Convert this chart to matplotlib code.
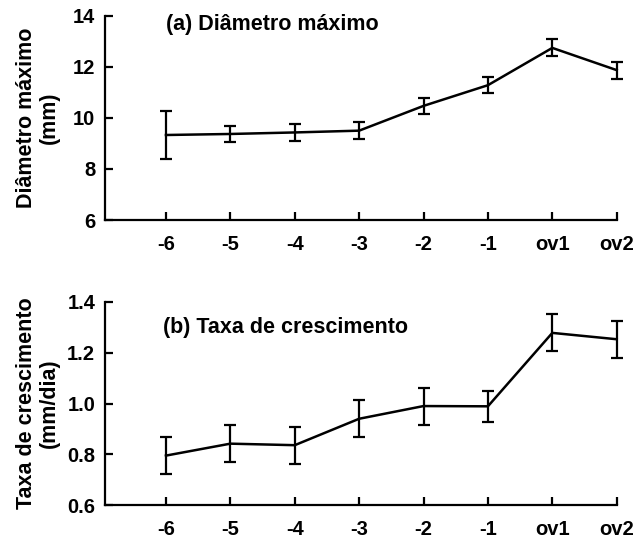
import matplotlib
matplotlib.use('Agg')
import matplotlib.pyplot as plt

plt.rcParams['font.family'] = ['Liberation Sans', 'DejaVu Sans']
plt.rcParams['font.weight'] = 'bold'

# dados
categorias = ['-6', '-5', '-4', '-3', '-2', '-1', 'ov1', 'ov2']
diametro = [9.33, 9.37, 9.43, 9.50, 10.47, 11.28, 12.74, 11.87]
diametro_err = [0.93, 0.33, 0.33, 0.33, 0.32, 0.32, 0.33, 0.33]
taxa = [0.795, 0.842, 0.836, 0.940, 0.990, 0.989, 1.278, 1.253]
taxa_err = [0.073, 0.073, 0.073, 0.073, 0.073, 0.060, 0.073, 0.073]

FS = 14.5      # rótulos dos ticks
FS_TXT = 15.5  # títulos e rótulos dos eixos

fig = plt.figure(figsize=(6.4, 5.42), dpi=100)
ax1 = fig.add_axes([0.164, 0.594, 0.7996, 0.377])
ax2 = fig.add_axes([0.164, 0.068, 0.7996, 0.375])

x = list(range(len(categorias)))


def estilo(ax, ylim, yticks, yfmt, ylabel):
    ax.set_xlim(-0.947, 7.0)
    ax.set_ylim(*ylim)
    ax.set_xticks(x)
    ax.set_xticklabels(categorias)
    ax.set_yticks(yticks)
    ax.set_yticklabels([yfmt.format(v) for v in yticks])
    for s in ['top', 'right']:
        ax.spines[s].set_visible(False)
    for s in ['left', 'bottom']:
        ax.spines[s].set_linewidth(1.6)
    ax.tick_params(axis='both', direction='in', length=6, width=1.6,
                   labelsize=FS)
    ax.tick_params(axis='x', pad=11)
    ax.tick_params(axis='y', pad=7)
    ax.set_ylabel(ylabel, fontsize=FS_TXT, fontweight='bold', linespacing=1.15)
    ax.yaxis.set_label_coords(-0.088, 0.5)


ax1.errorbar(x, diametro, yerr=diametro_err, color='black', linewidth=1.8,
             elinewidth=1.6, capsize=4, capthick=1.6, clip_on=False)
estilo(ax1, (6, 14), [6, 8, 10, 12, 14], '{:.0f}', 'Diâmetro máximo\n(mm)')
ax1.text(0.119, 0.955, '(a) Diâmetro máximo', transform=ax1.transAxes,
         fontsize=FS_TXT, fontweight='bold', va='center', ha='left')

ax2.errorbar(x, taxa, yerr=taxa_err, color='black', linewidth=1.8,
             elinewidth=1.6, capsize=4, capthick=1.6, clip_on=False)
estilo(ax2, (0.6, 1.4), [0.6, 0.8, 1.0, 1.2, 1.4], '{:.1f}',
       'Taxa de crescimento\n(mm/dia)')
ax2.text(0.113, 0.875, '(b) Taxa de crescimento', transform=ax2.transAxes,
         fontsize=FS_TXT, fontweight='bold', va='center', ha='left')

fig.savefig('out.png', dpi=100)
